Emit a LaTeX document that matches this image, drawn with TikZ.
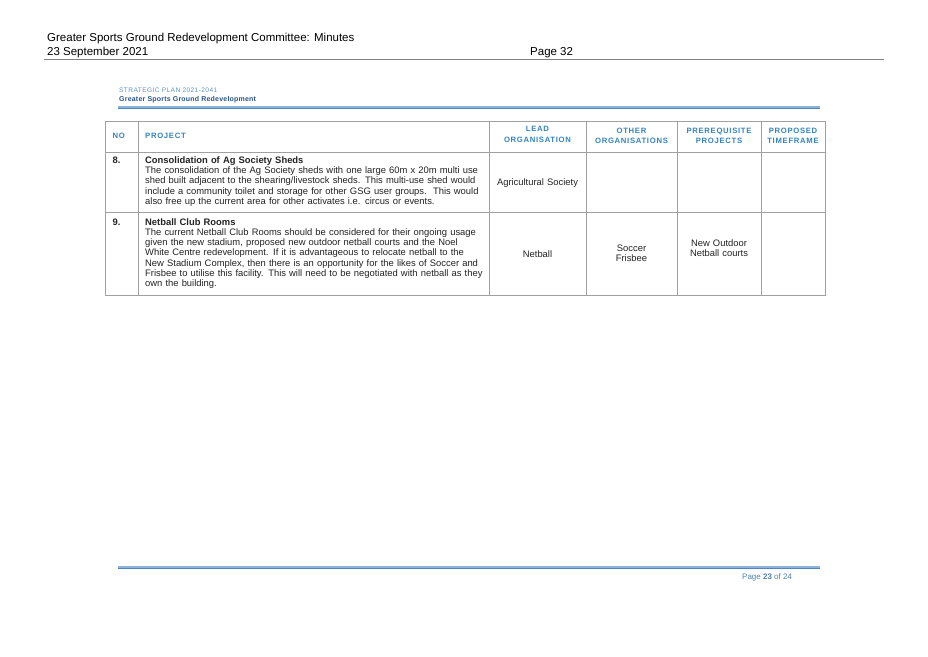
\documentclass[tikz,border=0pt]{standalone}
\usepackage{fontspec}
\setmainfont{Liberation Sans}
\newfontfamily\colhdfont[LetterSpace=9]{Liberation Sans}
\newfontfamily\stratfont[LetterSpace=6]{Liberation Sans}
\newfontfamily\gsgfont[LetterSpace=3]{Liberation Sans}
\definecolor{hdblue}{RGB}{52,132,192}
\definecolor{ruleLight}{RGB}{140,180,216}
\definecolor{ruleDark}{RGB}{80,134,190}
\definecolor{stratblue}{RGB}{96,150,200}
\definecolor{gsgblue}{RGB}{40,84,140}
\definecolor{gridgray}{RGB}{160,160,160}
\definecolor{bodytext}{RGB}{35,35,35}
\definecolor{footblue}{RGB}{80,130,180}
\tikzset{
  hdr/.style={inner sep=0pt, font=\fontsize{11.5}{13.9}\selectfont, text=black},
  colhd/.style={inner sep=0pt, font=\colhdfont\bfseries\fontsize{7.7}{10.5}\selectfont, text=hdblue, align=center, text width=90pt, anchor=base},
  body/.style={inner sep=0pt, font=\fontsize{9.4}{10.3}\selectfont, text=bodytext, align=left, text width=350pt, anchor=base west},
  cellc/.style={inner sep=0pt, font=\fontsize{9.4}{10.3}\selectfont, text=bodytext, align=center, text width=90pt, anchor=base},
  num/.style={inner sep=0pt, font=\bfseries\fontsize{9.4}{10.3}\selectfont, text=bodytext, anchor=base west},
  gridline/.style={draw=gridgray, line width=1pt},
}
\begin{document}
\begin{tikzpicture}[x=1pt,y=-1pt]
\fill[white] (0,0) rectangle (928,656);
\useasboundingbox (0,0) rectangle (928,656);
% page header
\node[hdr, anchor=base west] (title) at (47,41) {Greater Sports Ground Redevelopment Committee: Minutes};
\node[hdr, anchor=base west] (date) at (47,55.3) {23 September 2021};
\node[hdr, anchor=base west] (pg) at (530,55.3) {Page 32};
\draw[draw=gray, line width=1pt] (44,59) -- (884,59);
% strategic plan header
\node[inner sep=0pt, anchor=base west, text=stratblue, font=\stratfont\fontsize{6.6}{7}\selectfont] (strat) at (119,92) {STRATEGIC PLAN 2021-2041};
\node[inner sep=0pt, anchor=base west, text=gsgblue, font=\gsgfont\bfseries\fontsize{7}{8}\selectfont] (gsg) at (119,101) {Greater Sports Ground Redevelopment};
\draw[ruleLight, line width=2.4pt] (118,107.3) -- (820,107.3);
\draw[ruleDark, line width=0.8pt] (118,108.8) -- (820,108.8);
% table grid
\draw[gridline] (105,121) rectangle (825,295);
\draw[gridline] (105,152) -- (825,152);
\draw[gridline] (105,212) -- (825,212);
\foreach \cx in {138,489,586,677,761} \draw[gridline] (\cx,121) -- (\cx,295);
% column headers
\node[colhd, anchor=base west, text width=20pt, align=left] (hno) at (112.5,138.7) {NO};
\node[colhd, anchor=base west, text width=100pt, align=left] (hproj) at (145,138.7) {PROJECT};
\node[colhd] (hlead) at (537.5,131.7) {LEAD\\ORGANISATION};
\node[colhd] (hother) at (631.5,133.4) {OTHER\\ORGANISATIONS};
\node[colhd] (hpre) at (719,133.4) {PREREQUISITE\\PROJECTS};
\node[colhd] (htime) at (793,133.4) {PROPOSED\\TIMEFRAME};
% row 8
\node[num] (n8) at (112.5,163.3) {8.};
\node[body] (p8) at (145,163.3) {\textbf{Consolidation of Ag Society Sheds}\\
The consolidation of the Ag Society sheds with one large 60m x 20m multi use\\
shed built adjacent to the shearing/livestock sheds. This multi-use shed would\\
include a community toilet and storage for other GSG user groups.\ \ This would\\
also free up the current area for other activates i.e. circus or events.};
\node[cellc] (l8) at (537.5,185) {Agricultural Society};
% row 9
\node[num] (n9) at (112.5,225) {9.};
\node[body] (p9) at (145,225) {\textbf{Netball Club Rooms}\\
The current Netball Club Rooms should be considered for their ongoing usage\\
given the new stadium, proposed new outdoor netball courts and the Noel\\
White Centre redevelopment. If it is advantageous to relocate netball to the\\
New Stadium Complex, then there is an opportunity for the likes of Soccer and\\
Frisbee to utilise this facility. This will need to be negotiated with netball as they\\
own the building.};
\node[cellc] (l9) at (537.5,257.3) {Netball};
\node[cellc] (o9) at (631.5,251.6) {Soccer\\Frisbee};
\node[cellc] (r9) at (719,246) {New Outdoor\\Netball courts};
% footer
\draw[ruleLight, line width=2.4pt] (118,567.3) -- (820,567.3);
\draw[ruleDark, line width=0.8pt] (118,568.8) -- (820,568.8);
\node[inner sep=0pt, anchor=base west, text=footblue, font=\fontsize{8}{9}\selectfont] (foot) at (742,579.5) {Page \textbf{23} of 24};
\end{tikzpicture}
\end{document}
